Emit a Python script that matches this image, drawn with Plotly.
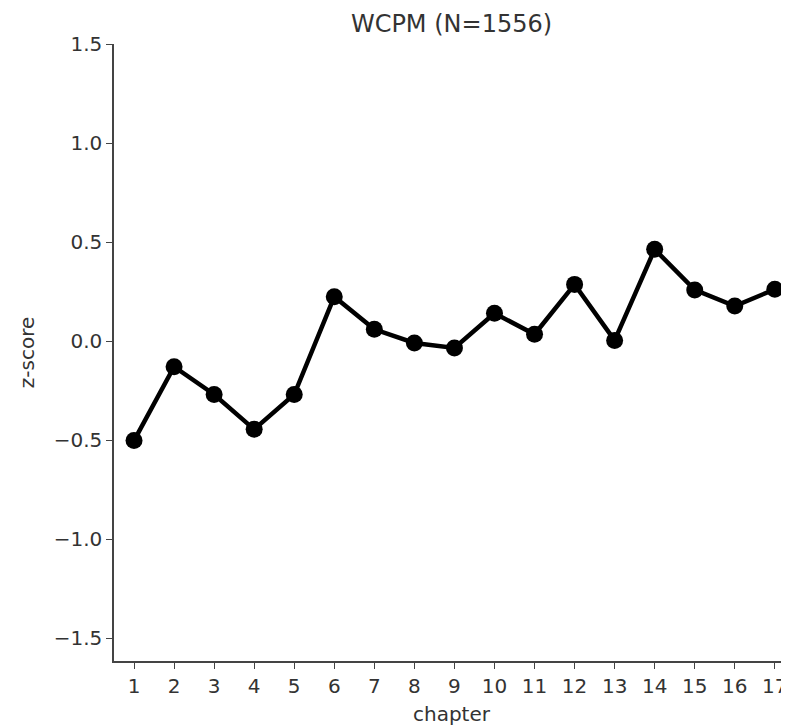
import plotly.graph_objects as go

chapters = list(range(1, 18))
zscores = [-0.503, -0.13, -0.27, -0.446, -0.27, 0.224, 0.059, -0.01, -0.035,
           0.14, 0.034, 0.286, 0.003, 0.463, 0.258, 0.177, 0.261]
title = "WCPM (N=1556)"
ytick_vals = [-1.5, -1.0, -0.5, 0.0, 0.5, 1.0, 1.5]
ytick_text = ["\u22121.5", "\u22121.0", "\u22120.5", "0.0", "0.5", "1.0", "1.5"]

font_family = "DejaVu Sans"
text_col = "#333333"
axis_col = "#444444"

W, H = 781, 718
L = 106
fig = go.Figure()
fig.add_trace(go.Scatter(
    x=chapters, y=zscores, mode="lines+markers",
    line=dict(color="black", width=4.5),
    marker=dict(color="black", size=17),
    showlegend=False,
))

fig.update_layout(
    width=W, height=H,
    margin=dict(l=L, r=0, t=36, b=65),
    paper_bgcolor="white", plot_bgcolor="white",
    font=dict(family=font_family, color=text_col, size=20),
    title=dict(text=title, x=(L + W) / 2 / W, xanchor="center",
               y=1 - 16 / H, yanchor="middle",
               font=dict(size=24, color=text_col)),
)
fig.update_xaxes(
    range=[0.5, 0.5 + (W - L) / 40.05], tickmode="array", tickvals=chapters,
    ticktext=[str(c) for c in chapters],
    showgrid=False, zeroline=False, showline=True, linecolor=axis_col, linewidth=1.5,
    ticks="outside", ticklen=6, tickcolor=axis_col, tickwidth=1.2,
    title=dict(text="chapter", font=dict(size=20), standoff=12),
    tickfont=dict(size=20),
)
fig.update_yaxes(
    range=[-1.616, 1.5], tickmode="array", tickvals=ytick_vals, ticktext=ytick_text,
    showgrid=False, zeroline=False, showline=True, linecolor=axis_col, linewidth=1.5,
    ticks="outside", ticklen=6, tickcolor=axis_col, tickwidth=1.2,
    title=dict(text="z-score", font=dict(size=20), standoff=14),
    tickfont=dict(size=20),
)

fig.write_html("out.html")
